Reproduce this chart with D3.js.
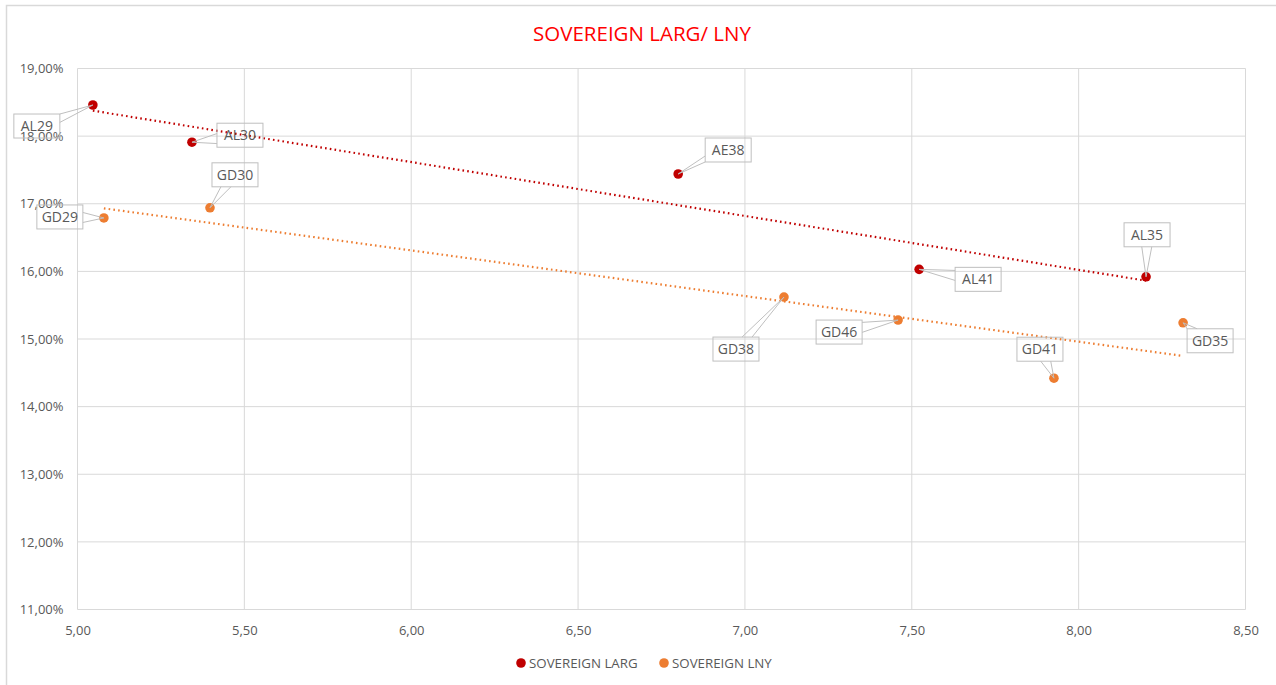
<!DOCTYPE html>
<html><head><meta charset="utf-8">
<script src="https://cdn.jsdelivr.net/npm/d3@7"></script>
<style>body{margin:0;background:#fff;}svg{display:block;font-family:"Open Sans",sans-serif;}</style>
</head><body>
<svg id="c" width="1276" height="685"></svg>
<script>
const title = "SOVEREIGN LARG/ LNY";
const seriesNames = ["SOVEREIGN LARG", "SOVEREIGN LNY"];
const seriesColors = ["#c00000", "#ed7d31"];
const largLabels = ["AL29", "AL30", "AE38", "AL41", "AL35"];
const largX = [5.046, 5.343, 6.80, 7.522, 8.202];
const largY = [18.46, 17.91, 17.44, 16.03, 15.92];
const lnyLabels = ["GD29", "GD30", "GD38", "GD46", "GD41", "GD35"];
const lnyX = [5.079, 5.397, 7.117, 7.459, 7.926, 8.313];
const lnyY = [16.79, 16.94, 15.62, 15.28, 14.42, 15.24];
const xTicks = [5.0, 5.5, 6.0, 6.5, 7.0, 7.5, 8.0, 8.5];
const yTicks = [11, 12, 13, 14, 15, 16, 17, 18, 19];

// label callout offsets (pixels, layout only)
const labelOffsets = {
  AL29: [-56, 21], AL30: [48, -7], AE38: [50, -24], AL41: [59, 10], AL35: [1, -42],
  GD29: [-44, -1], GD30: [25, -33], GD38: [-48, 52], GD46: [-59, 12], GD41: [-14, -29], GD35: [27, 18]
};

const svg = d3.select("#c");
const m = {l: 77.5, r: 1245.5, t: 68.5, b: 609.5};
const x = d3.scaleLinear().domain([5, 8.5]).range([m.l, m.r]);
const y = d3.scaleLinear().domain([11, 19]).range([m.b, m.t]);
const fmt = v => d3.format(".2f")(v).replace(".", ",");

// outer frame
svg.append("path").attr("d", "M6.5,685 V5.5 H1276").attr("fill", "none").attr("stroke", "#d9d9d9").attr("stroke-width", 1.5);

// title
svg.append("text").attr("x", 642).attr("y", 40.5).attr("text-anchor", "middle")
  .attr("fill", "#ff0000").attr("font-size", 20.5).text(title);

// gridlines
const g = svg.append("g");
g.selectAll("line.h").data(yTicks).join("line")
  .attr("x1", m.l).attr("x2", m.r).attr("y1", d => y(d)).attr("y2", d => y(d))
  .attr("stroke", "#d9d9d9").attr("stroke-width", 1);
g.selectAll("line.v").data(xTicks).join("line")
  .attr("y1", m.t).attr("y2", m.b).attr("x1", d => x(d)).attr("x2", d => x(d))
  .attr("stroke", "#d9d9d9").attr("stroke-width", 1);

// axes (labels only)
const ax = svg.append("g").attr("transform", `translate(0,${m.b})`)
  .call(d3.axisBottom(x).tickValues(xTicks).tickFormat(fmt).tickSize(0).tickPadding(16));
ax.select(".domain").remove();
ax.selectAll("text").attr("fill", "#595959").attr("font-size", 13).attr("font-family", "Open Sans");
const ay = svg.append("g").attr("transform", `translate(${m.l},0)`)
  .call(d3.axisLeft(y).tickValues(yTicks).tickFormat(d => fmt(d) + "%").tickSize(0).tickPadding(14));
ay.select(".domain").remove();
ay.selectAll("text").attr("fill", "#595959").attr("font-size", 13).attr("font-family", "Open Sans");

// trendlines (least squares)
function trend(xs, ys) {
  const mx = d3.mean(xs), my = d3.mean(ys);
  let sxy = 0, sxx = 0;
  xs.forEach((v, i) => { sxy += (v - mx) * (ys[i] - my); sxx += (v - mx) * (v - mx); });
  const b = sxy / sxx, a = my - b * mx;
  const x0 = d3.min(xs), x1 = d3.max(xs);
  return [[x0, a + b * x0], [x1, a + b * x1]];
}
const series = [
  {labels: largLabels, xs: largX, ys: largY, color: seriesColors[0]},
  {labels: lnyLabels, xs: lnyX, ys: lnyY, color: seriesColors[1]}
];
series.forEach(s => {
  const t = trend(s.xs, s.ys);
  svg.append("line").attr("x1", x(t[0][0])).attr("y1", y(t[0][1])).attr("x2", x(t[1][0])).attr("y2", y(t[1][1]))
    .attr("stroke", s.color).attr("stroke-width", 2.2).attr("stroke-dasharray", "1.6,3.2");
});

// points
series.forEach(s => {
  svg.append("g").selectAll("circle").data(s.xs).join("circle")
    .attr("cx", d => x(d)).attr("cy", (d, i) => y(s.ys[i])).attr("r", 4.8).attr("fill", s.color);
});

// callout labels
const lab = svg.append("g");
series.forEach(s => {
  s.labels.forEach((name, i) => {
    const px = x(s.xs[i]), py = y(s.ys[i]);
    const off = labelOffsets[name];
    const cx = px + off[0], cy = py + off[1];
    const w = 46, h = 24;
    const L = cx - w / 2, R = cx + w / 2, T = cy - h / 2, B = cy + h / 2;
    const dx = px - cx, dy = py - cy;
    const tx = dx !== 0 ? (w / 2) / Math.abs(dx) : Infinity;
    const ty = dy !== 0 ? (h / 2) / Math.abs(dy) : Infinity;
    let b1, b2;
    const hw = 5;
    if (tx < ty) {
      const ex = dx > 0 ? R : L; const ey = Math.max(T + 1, Math.min(B - 1, cy + dy * tx));
      b1 = [ex, Math.max(T, ey - hw)]; b2 = [ex, Math.min(B, ey + hw)];
    } else {
      const ey = dy > 0 ? B : T; const ex = Math.max(L + 1, Math.min(R - 1, cx + dx * ty));
      b1 = [Math.max(L, ex - hw), ey]; b2 = [Math.min(R, ex + hw), ey];
    }
    lab.append("rect").attr("x", L).attr("y", T).attr("width", w).attr("height", h)
      .attr("fill", "none").attr("stroke", "#bfbfbf").attr("stroke-width", 1);
    lab.append("path").attr("d", `M${b1[0]},${b1[1]} L${px},${py} L${b2[0]},${b2[1]}`)
      .attr("fill", "none").attr("stroke", "#bfbfbf").attr("stroke-width", 1);
    lab.append("text").attr("x", cx).attr("y", cy + 5).attr("text-anchor", "middle")
      .attr("fill", "#595959").attr("font-size", 14).text(name);
  });
});

// legend
const leg = svg.append("g");
const legX = [521, 664];
seriesNames.forEach((n, i) => {
  leg.append("circle").attr("cx", legX[i]).attr("cy", 663).attr("r", 4.8).attr("fill", seriesColors[i]);
  leg.append("text").attr("x", legX[i] + 8).attr("y", 667.5).attr("fill", "#595959").attr("font-size", 13.3).text(n);
});
</script>
</body></html>
